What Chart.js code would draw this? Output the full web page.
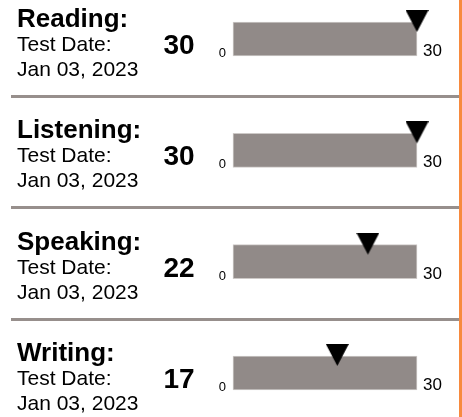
<!DOCTYPE html>
<html>
<head>
<meta charset="utf-8">
<script src="https://cdn.jsdelivr.net/npm/chart.js@4/dist/chart.umd.min.js"></script>
<style>
  html, body { margin: 0; padding: 0; background: #ffffff; }
  #c { display: block; }
</style>
</head>
<body>
<canvas id="c" width="462" height="417"></canvas>
<script>
// ---- data ----
const categories = ['Reading:', 'Listening:', 'Speaking:', 'Writing:'];
const scores = [30, 30, 22, 17];
const scaleMax = [30, 30, 30, 30];
const dateLabel = 'Test Date:';
const testDates = ['Jan 03, 2023', 'Jan 03, 2023', 'Jan 03, 2023', 'Jan 03, 2023'];
const tickLabels = ['0', '30'];

// ---- marker (downward triangle sitting on the bar top) ----
function makeMarker() {
  const c = document.createElement('canvas');
  c.width = 23; c.height = 58;
  const g = c.getContext('2d');
  g.fillStyle = '#000000';
  g.beginPath();
  g.moveTo(0, 0);
  g.lineTo(23, 0);
  g.lineTo(11.5, 22);
  g.closePath();
  g.fill();
  return c;
}
const marker = makeMarker();

const FONT = '"Liberation Sans", Arial, Helvetica, sans-serif';

const decorPlugin = {
  id: 'decor',
  afterDatasetsDraw(chart) {
    const ctx = chart.ctx;
    const xs = chart.scales.x, ys = chart.scales.y;
    const x0 = xs.getPixelForValue(xs.min);
    const x1 = xs.getPixelForValue(xs.max);
    ctx.save();
    categories.forEach((cat, i) => {
      const cy = ys.getPixelForValue(i);
      ctx.fillStyle = '#000000';
      ctx.textAlign = 'left';
      ctx.textBaseline = 'alphabetic';
      ctx.font = 'bold 26px ' + FONT;
      ctx.fillText(cat, 17, cy - 12);
      ctx.font = '21px ' + FONT;
      ctx.fillText(dateLabel, 17, cy + 12);
      ctx.fillText(testDates[i], 17, cy + 37);
      // big score
      ctx.font = 'bold 28px ' + FONT;
      ctx.textAlign = 'center';
      ctx.fillText(String(scores[i]), 179, cy + 15);
      // axis end labels
      ctx.font = '13px ' + FONT;
      ctx.textAlign = 'right';
      ctx.fillText(tickLabels[0], x0 - 7, cy + 18);
      ctx.font = '17px ' + FONT;
      ctx.textAlign = 'left';
      ctx.fillText(tickLabels[1], x1 + 6, cy + 17);
      // separator
      if (i < categories.length - 1) {
        ctx.fillStyle = '#978f8c';
        ctx.fillRect(11, Math.round(cy + 56), 448, 3);
      }
    });
    // orange right border
    ctx.fillStyle = '#f78a3e';
    ctx.fillRect(459, 0, 3, chart.height);
    ctx.restore();
  }
};

new Chart(document.getElementById('c'), {
  type: 'bar',
  data: {
    labels: categories,
    datasets: [
      {
        type: 'line',
        indexAxis: 'y',
        data: scores,
        showLine: false,
        pointStyle: marker,
        pointRadius: 12,
        pointHoverRadius: 12,
        clip: false
      },
      {
        type: 'bar',
        indexAxis: 'y',
        data: scaleMax,
        backgroundColor: '#918a88',
        borderColor: '#cdc9c7',
        borderWidth: 1,
        borderSkipped: false,
        barThickness: 34,
        clip: false
      }
    ]
  },
  options: {
    indexAxis: 'y',
    responsive: false,
    animation: false,
    events: [],
    layout: { padding: { left: 233, right: 45, top: 39, bottom: 44 } },
    plugins: { legend: { display: false }, tooltip: { enabled: false } },
    scales: {
      x: { type: 'linear', min: 0, max: 30, display: false },
      y: { type: 'category', offset: false, display: false }
    }
  },
  plugins: [decorPlugin]
});
</script>
</body>
</html>
